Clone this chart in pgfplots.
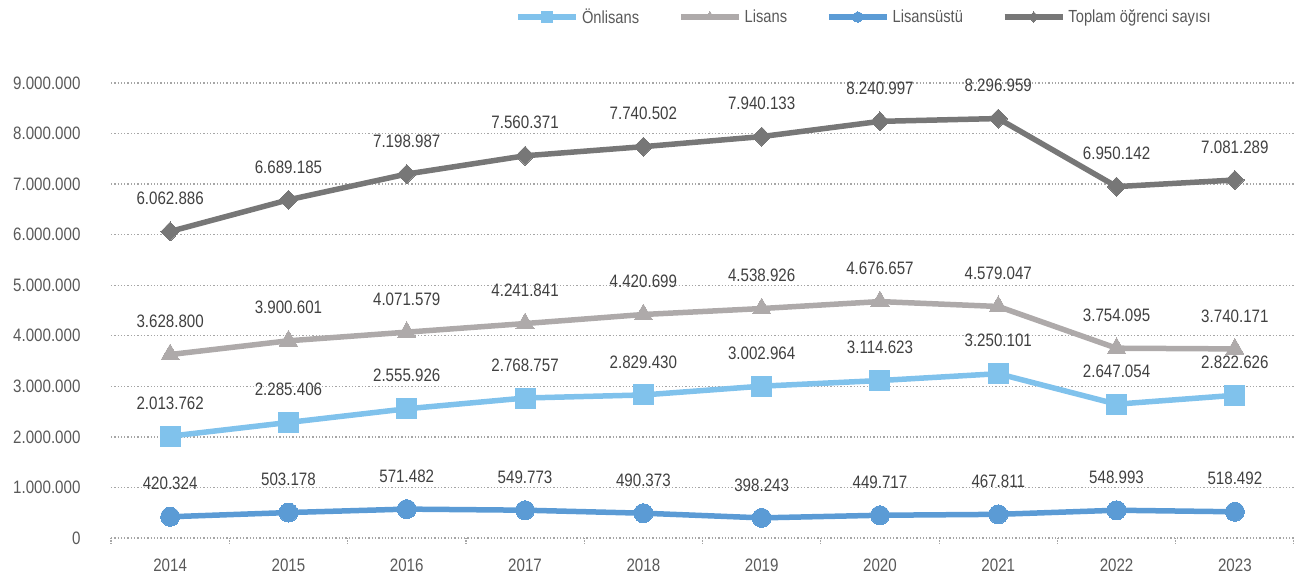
\documentclass[border=0pt]{standalone}
\usepackage{fontspec}
\setmainfont{Liberation Sans}[FakeStretch=0.84]
\usepackage{pgfplots}
\pgfplotsset{compat=1.18}
\definecolor{conl}{HTML}{80C2EC}
\definecolor{clis}{HTML}{AEAAAA}
\definecolor{clu}{HTML}{5B9BD5}
\definecolor{ctop}{HTML}{777777}
\definecolor{ctick}{HTML}{595959}
\definecolor{clab}{HTML}{404040}
\definecolor{cgrid}{HTML}{A6A6A6}
\begin{document}
\begin{tikzpicture}
\begin{axis}[
  name=ax,
  scale only axis,
  width=1183pt, height=455pt,
  xmin=-0.5, xmax=9.5,
  ymin=0, ymax=9000000,
  clip=false,
  axis line style={draw=none},
  xtick={0,...,9},
  xticklabels={2014,2015,2016,2017,2018,2019,2020,2021,2022,2023},
  minor xtick={-0.5,0.5,...,9.5},
  xtick pos=bottom, ytick pos=left,
  major tick length=0pt,
  minor tick length=6pt,
  tick align=outside,
  minor tick style={cgrid, line width=1.2pt, dash pattern=on 1.2pt off 1.2pt},
  ytick={0,1000000,...,9000000},
  scaled y ticks=false,
  ymajorgrids,
  major grid style={cgrid, line width=1.3pt, dash pattern=on 1.3pt off 2pt},
  tick label style={font=\fontsize{18}{21}\selectfont, text=ctick},
  yticklabel style={/pgf/number format/fixed, /pgf/number format/1000 sep={.}, /pgf/number format/assume math mode=true, xshift=-27pt},
  xticklabel style={yshift=-17pt},
  every axis plot/.append style={line width=5.5pt},
  point meta=explicit symbolic,
  nodes near coords={\pgfplotspointmeta},
  every node near coord/.append style={font=\fontsize{18}{21}\selectfont, text=clab, anchor=center, yshift=33pt},
  legend style={at={(0.637,1.145)}, anchor=center, draw=none, fill=none,
    legend columns=-1, font=\fontsize{17.5}{21}\selectfont, text=ctick,
    /tikz/every even column/.append style={column sep=36pt},
    nodes={inner sep=3pt}},
  legend image code/.code={\draw[mark repeat=2,mark phase=2,#1,every mark/.append style={scale=0.55}] plot coordinates {(0pt,0pt) (29pt,0pt) (58pt,0pt)};},
]
\addplot[color=conl, mark=square*, mark size=10pt, mark options={fill=conl, line width=0pt}] coordinates {
(0,2013762) [2.013.762]
(1,2285406) [2.285.406]
(2,2555926) [2.555.926]
(3,2768757) [2.768.757]
(4,2829430) [2.829.430]
(5,3002964) [3.002.964]
(6,3114623) [3.114.623]
(7,3250101) [3.250.101]
(8,2647054) [2.647.054]
(9,2822626) [2.822.626]
};
\addlegendentry{Önlisans}
\addplot[color=clis, mark=triangle*, mark size=10.5pt, mark options={fill=clis, line width=0pt}] coordinates {
(0,3628800) [3.628.800]
(1,3900601) [3.900.601]
(2,4071579) [4.071.579]
(3,4241841) [4.241.841]
(4,4420699) [4.420.699]
(5,4538926) [4.538.926]
(6,4676657) [4.676.657]
(7,4579047) [4.579.047]
(8,3754095) [3.754.095]
(9,3740171) [3.740.171]
};
\addlegendentry{Lisans}
\addplot[color=clu, mark=*, mark size=9.5pt, mark options={fill=clu, line width=0pt}] coordinates {
(0,420324) [420.324]
(1,503178) [503.178]
(2,571482) [571.482]
(3,549773) [549.773]
(4,490373) [490.373]
(5,398243) [398.243]
(6,449717) [449.717]
(7,467811) [467.811]
(8,548993) [548.993]
(9,518492) [518.492]
};
\addlegendentry{Lisansüstü}
\addplot[color=ctop, mark=diamond*, mark size=9.5pt, mark options={fill=ctop, line width=0pt, xscale=1.3}] coordinates {
(0,6062886) [6.062.886]
(1,6689185) [6.689.185]
(2,7198987) [7.198.987]
(3,7560371) [7.560.371]
(4,7740502) [7.740.502]
(5,7940133) [7.940.133]
(6,8240997) [8.240.997]
(7,8296959) [8.296.959]
(8,6950142) [6.950.142]
(9,7081289) [7.081.289]
};
\addlegendentry{Toplam öğrenci sayısı}
\end{axis}
\pgfresetboundingbox
\path[use as bounding box] (ax.south west) ++(-111pt,-42pt) rectangle ++(1294pt,580pt);
\end{tikzpicture}
\end{document}
